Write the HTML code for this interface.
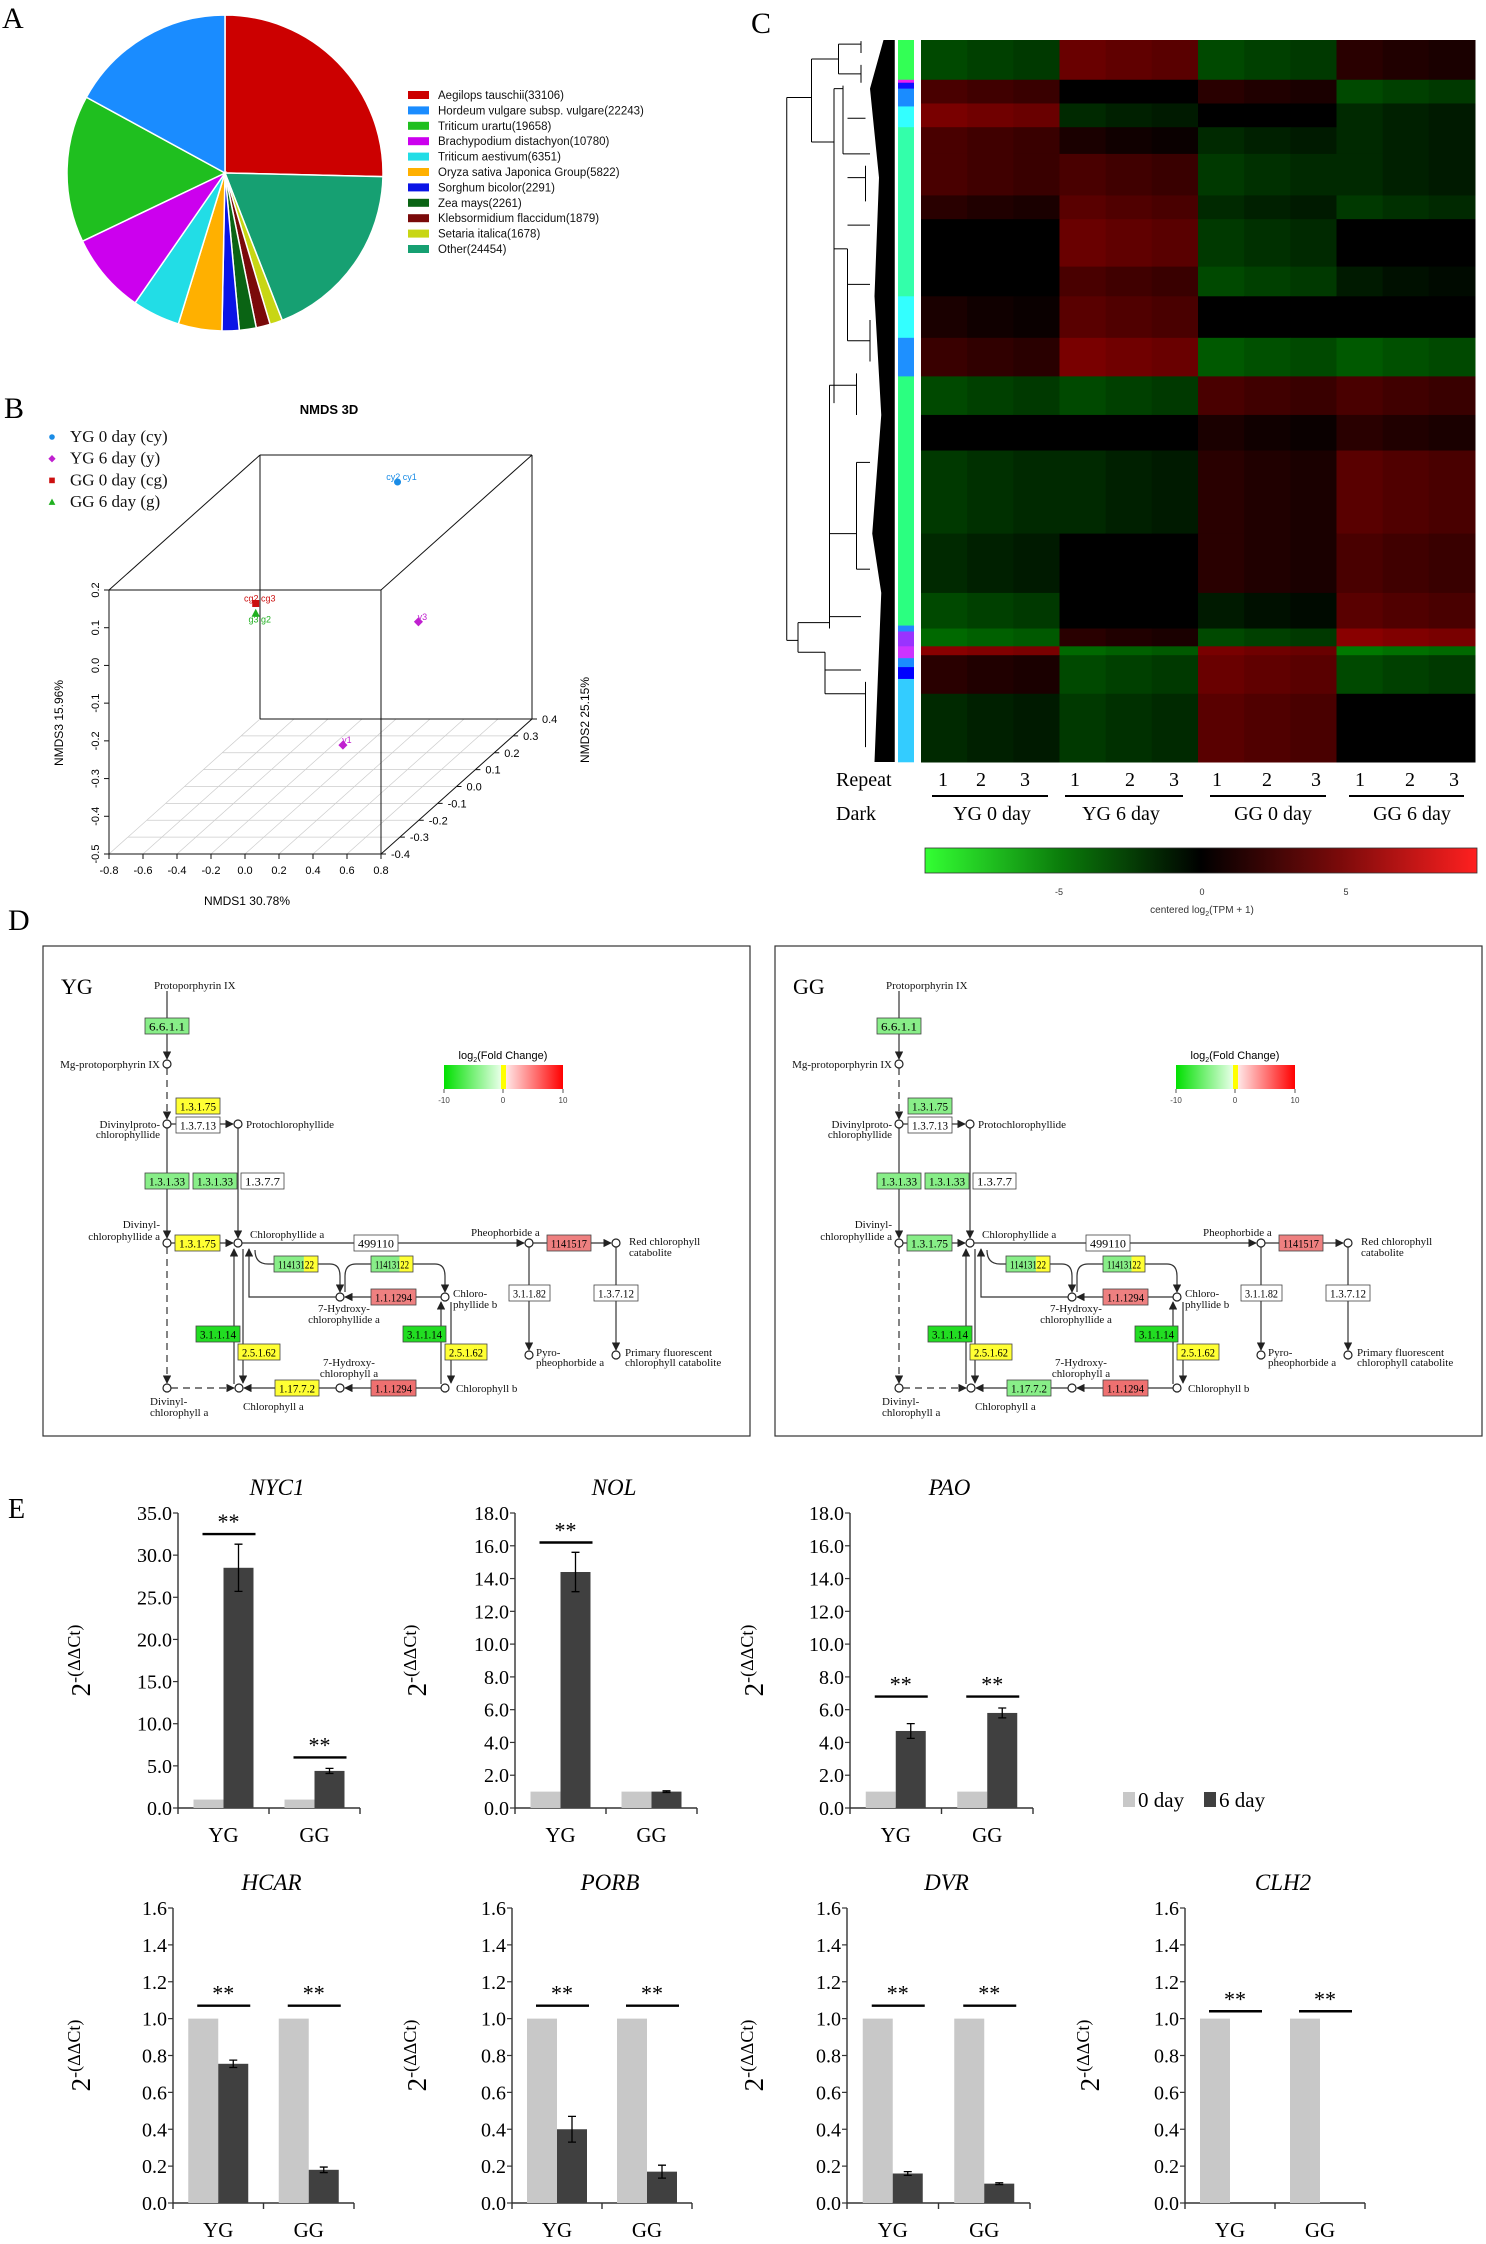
<!DOCTYPE html>
<html><head><meta charset="utf-8">
<style>
html,body{margin:0;padding:0;background:#fff;}
svg{display:block;}
.sans{font-family:"Liberation Sans",sans-serif;}
.serif{font-family:"Liberation Serif",serif;}
</style></head>
<body>
<svg id="fig" width="1486" height="2244" viewBox="0 0 1486 2244" xmlns="http://www.w3.org/2000/svg">
<defs>
<marker id="arr" viewBox="0 0 10 10" refX="9" refY="5" markerWidth="7" markerHeight="7" orient="auto-start-reverse"><path d="M0,0 L10,5 L0,10 z" fill="#222"/></marker>
<linearGradient id="hmgrad" x1="0" x2="1" y1="0" y2="0">
<stop offset="0" stop-color="#33ff33"/><stop offset="0.25" stop-color="#0a7a0a"/><stop offset="0.5" stop-color="#000"/><stop offset="0.75" stop-color="#7a0a0a"/><stop offset="1" stop-color="#ff2020"/></linearGradient>
<linearGradient id="fcgrad" x1="0" x2="1" y1="0" y2="0">
<stop offset="0" stop-color="#00e000"/><stop offset="0.48" stop-color="#e8ffe8"/><stop offset="0.48" stop-color="#ffff00"/><stop offset="0.52" stop-color="#ffff00"/><stop offset="0.52" stop-color="#ffe8e8"/><stop offset="1" stop-color="#ff0000"/></linearGradient>
</defs>
<g id="gA"></g>
<g id="gB"></g>
<g id="gC"></g>
<g id="gD"></g>
<g id="gE"></g>
</svg>
<script>
// ---------- Panel A data ----------
const pieLabels=['Aegilops tauschii(33106)','Hordeum vulgare subsp. vulgare(22243)','Triticum urartu(19658)','Brachypodium distachyon(10780)','Triticum aestivum(6351)','Oryza sativa Japonica Group(5822)','Sorghum bicolor(2291)','Zea mays(2261)','Klebsormidium flaccidum(1879)','Setaria italica(1678)','Other(24454)'];
const pieValues=[33106,22243,19658,10780,6351,5822,2291,2261,1879,1678,24454];
const pieColors=['#cc0000','#1a8cff','#1fbf1f','#cc00ee','#22dde6','#ffb000','#0a14e6','#0a6414','#7a0a0a','#c8d614','#16a072'];
// ---------- Panel B data ----------
const nmdsGroups=['YG 0 day (cy)','YG 6 day (y)','GG 0 day (cg)','GG 6 day (g)'];
const nmdsColors=['#1a8ce6','#c020d0','#cc1010','#20b020'];
const nmdsX=[0.12,0.465,-0.27,-0.27,0.465];
const nmdsY=[0.3,-0.3,-0.1,-0.1,0.1];
const nmdsZ=[0.173,-0.256,0.03,0.004,-0.108];
const nmdsGrp=[0,1,2,3,1];
const nmdsLbl=['cy2 cy1','y1','cg2 cg3','g3 g2','y3'];
const xTicks=[-0.8,-0.6,-0.4,-0.2,0.0,0.2,0.4,0.6,0.8];
const zTicks=[0.2,0.1,0.0,-0.1,-0.2,-0.3,-0.4,-0.5];
const dTicks=[-0.4,-0.3,-0.2,-0.1,0.0,0.1,0.2,0.3,0.4];
// ---------- Panel C data ----------
const hmGroups=['YG 0  day','YG 6 day','GG 0 day','GG 6 day'];
const bandEnd=[135,175,215,260,330,370,450,500,570,635,700,760,900,1000,1060,1090,1105,1170,1285];
const bandYG0=[-2,2,3.5,2,2,1,0,0,0.5,1.5,-2,0,-1.5,-1,-2,-3,4,1,-1];
const bandYG6=[3,0,-1,0.5,2,2.5,3,2,2.5,3.5,-2,0,-1,0,0,1,-3,-2,-1.5];
const bandGG0=[-2,1,0,-1,-1.5,-1,-1.5,-2,0,-2.5,2,0.5,1,1,-0.5,-2,3.5,3,2.5];
const bandGG6=[1,-2,-1,-1,-1,-1.5,0,-0.5,0,-2.5,2,1,2.5,2,2.5,4,-3.5,-2,0];
const repShift=[0.3,0,-0.2];
const sideEnd=[135,140,150,180,215,500,570,635,1055,1065,1090,1110,1125,1145,1285];
const sideCol=['#33ff55','#ee22ee','#1010ff','#1a8cff','#33ffff','#33ffaa','#33ffff','#1e90ff','#2bff80','#2288ff','#9933ff','#cc33ff','#1a8cff','#0000ff','#33ccff'];
// ---------- Panel E data ----------
const genes=['NYC1','NOL','PAO','HCAR','PORB','DVR','CLH2'];
const cats=['YG','GG'];
const day0=[[1,1],[1,1],[1,1],[1,1],[1,1],[1,1],[1,1]];
const day6=[[28.5,4.4],[14.4,1.0],[4.7,5.8],[0.755,0.18],[0.40,0.17],[0.16,0.105],[0,0]];
const err6=[[2.8,0.3],[1.2,0.05],[0.45,0.3],[0.02,0.015],[0.07,0.035],[0.01,0.005],[0,0]];
const sigLevel=[[32.5,6.0],[16.2,null],[6.8,6.8],[1.07,1.07],[1.07,1.07],[1.07,1.07],[1.04,1.04]];
const yMax=[35,18,18,1.6,1.6,1.6,1.6];
const yStep=[5,2,2,0.2,0.2,0.2,0.2];

const NS='http://www.w3.org/2000/svg';
function mk(parent,tag,attrs,txt){const e=document.createElementNS(NS,tag);for(const k in attrs)e.setAttribute(k,attrs[k]);if(txt!==undefined)e.textContent=txt;parent.appendChild(e);return e;}

// ===== Panel A =====
(function(){
const g=document.getElementById('gA');
const t=mk(g,'text',{x:2,y:28,'font-size':30,class:'serif'},'A');


const cx=225,cy=173,r=158;
const total=pieValues.reduce((a,b)=>a+b,0);
const order=[0,10,9,8,7,6,5,4,3,2,1];
let a=-Math.PI/2;
order.forEach(i=>{
 const a2=a+pieValues[i]/total*2*Math.PI;
 const x1=cx+r*Math.cos(a),y1=cy+r*Math.sin(a),x2=cx+r*Math.cos(a2),y2=cy+r*Math.sin(a2);
 const p=mk(g,'path',{d:`M${cx},${cy} L${x1},${y1} A${r},${r} 0 ${a2-a>Math.PI?1:0} 1 ${x2},${y2} Z`,fill:pieColors[i],stroke:'#fff','stroke-width':1.5});
 
 
 a=a2;
});
pieLabels.forEach((l,i)=>{
 const y=95+i*15.4;
 const s=mk(g,'rect',{x:408,y:y-4,width:21,height:8,fill:pieColors[i]});
 
 
 const tx=mk(g,'text',{x:438,y:y+4,'font-size':11.5,class:'sans',fill:'#111'},l);
 
 
});
})();

// ===== Panel B =====
(function(){
const g=document.getElementById('gB');
const L=mk(g,'text',{x:4,y:418,'font-size':30,class:'serif'},'B');


const T=mk(g,'text',{x:329,y:414,'font-size':13,'font-weight':'bold','text-anchor':'middle',class:'sans'},'NMDS 3D');


function marker(parent,grp,x,y,s){
 const c=nmdsColors[grp];let m;
 if(grp===0)m=mk(parent,'circle',{cx:x,cy:y,r:s,fill:c});
 else if(grp===1)m=mk(parent,'path',{d:`M${x},${y-s*1.3} L${x+s*1.3},${y} L${x},${y+s*1.3} L${x-s*1.3},${y} Z`,fill:c});
 else if(grp===2)m=mk(parent,'rect',{x:x-s,y:y-s,width:2*s,height:2*s,fill:c});
 else m=mk(parent,'path',{d:`M${x},${y-s*1.3} L${x+s*1.2},${y+s} L${x-s*1.2},${y+s} Z`,fill:c});
 return m;}
nmdsGroups.forEach((n,i)=>{
 const y=442+i*21.7;
 const m=marker(g,i,52,y-5,2.8);
 
 
 const t=mk(g,'text',{x:70,y:y,'font-size':17,class:'serif',fill:'#111'},n);
 
 
});
function P(x,d,z){const f=(d+0.4)/0.8;return [109+(x+0.8)/1.6*272+f*151, 854-(z+0.5)/0.7*264-f*135];}
dTicks.forEach(d=>{const a=P(-0.8,d,-0.5),b=P(0.8,d,-0.5);mk(g,'line',{x1:a[0],y1:a[1],x2:b[0],y2:b[1],stroke:'#ccc','stroke-width':0.7});});
xTicks.forEach(x=>{const a=P(x,-0.4,-0.5),b=P(x,0.4,-0.5);mk(g,'line',{x1:a[0],y1:a[1],x2:b[0],y2:b[1],stroke:'#ccc','stroke-width':0.7});});
const C=[[-0.8,-0.4,0.2,0.8,-0.4,0.2],[-0.8,-0.4,0.2,-0.8,-0.4,-0.5],[0.8,-0.4,0.2,0.8,-0.4,-0.5],[-0.8,-0.4,-0.5,0.8,-0.4,-0.5],
[-0.8,0.4,0.2,0.8,0.4,0.2],[-0.8,0.4,0.2,-0.8,0.4,-0.5],[0.8,0.4,0.2,0.8,0.4,-0.5],[-0.8,0.4,-0.5,0.8,0.4,-0.5],
[-0.8,-0.4,0.2,-0.8,0.4,0.2],[0.8,-0.4,0.2,0.8,0.4,0.2],[0.8,-0.4,-0.5,0.8,0.4,-0.5]];
C.forEach(c=>{const a=P(c[0],c[1],c[2]),b=P(c[3],c[4],c[5]);const l=mk(g,'line',{x1:a[0],y1:a[1],x2:b[0],y2:b[1],stroke:'#111','stroke-width':1});});
xTicks.forEach(x=>{const p=P(x,-0.4,-0.5);mk(g,'line',{x1:p[0],y1:p[1],x2:p[0],y2:p[1]+5,stroke:'#111'});const t=mk(g,'text',{x:p[0],y:p[1]+20,'font-size':11,'text-anchor':'middle',class:'sans'},x.toFixed(1));});
zTicks.forEach(z=>{const p=P(-0.8,-0.4,z);mk(g,'line',{x1:p[0]-5,y1:p[1],x2:p[0],y2:p[1],stroke:'#111'});const t=mk(g,'text',{x:0,y:0,'font-size':11,'text-anchor':'middle',class:'sans',transform:`translate(${p[0]-10},${p[1]}) rotate(-90)`},z.toFixed(1));});
dTicks.forEach(d=>{const p=P(0.8,d,-0.5);mk(g,'line',{x1:p[0],y1:p[1],x2:p[0]+5,y2:p[1],stroke:'#111'});const t=mk(g,'text',{x:p[0]+10,y:p[1]+4,'font-size':11,class:'sans'},d.toFixed(1));});
const ax1=mk(g,'text',{x:247,y:905,'font-size':12,'text-anchor':'middle',class:'sans'},'NMDS1 30.78%');
const ax3=mk(g,'text',{x:0,y:0,'font-size':12,'text-anchor':'middle',class:'sans',transform:'translate(63,723) rotate(-90)'},'NMDS3 15.96%');
const ax2=mk(g,'text',{x:0,y:0,'font-size':12,'text-anchor':'middle',class:'sans',transform:'translate(589,720) rotate(-90)'},'NMDS2 25.15%');
nmdsX.forEach((x,i)=>{const p=P(x,nmdsY[i],nmdsZ[i]);const c=nmdsColors[nmdsGrp[i]];
 const m=marker(g,nmdsGrp[i],p[0],p[1],3.5);
 const t=mk(g,'text',{x:p[0]+4,y:p[1]+(nmdsGrp[i]==3?9:-2),'font-size':9,fill:c,class:'sans','text-anchor':'middle'},nmdsLbl[i]);
});
})();

// ===== Panel C =====
(function(){
const g=document.getElementById('gC');
const L=mk(g,'text',{x:751,y:33,'font-size':30,class:'serif'},'C');
const y0=40,y1=762,hx0=921,hx1=1475,sc=(y1-y0)/(1285-68);
function col(v){const k=Math.min(1,Math.abs(v)/8);return v<0?`rgb(0,${Math.round(k*255)},0)`:`rgb(${Math.round(k*255)},0,0)`;}
const vals=[bandYG0,bandYG6,bandGG0,bandGG6];
const cw=(hx1-hx0)/4;
let prev=68;
bandEnd.forEach((e,b)=>{
 const ya=y0+(prev-68)*sc,yb=y0+(e-68)*sc;
 for(let j=0;j<4;j++)for(let k=0;k<3;k++){const v=vals[j][b];const vv=v+Math.sign(v)*repShift[k];const r=mk(g,'rect',{x:hx0+j*cw+k*cw/3,y:ya,width:cw/3+0.5,height:yb-ya+0.5,fill:col(vv)});}
 prev=e;
});
prev=68;
sideEnd.forEach((e,i)=>{const ya=y0+(prev-68)*sc,yb=y0+(e-68)*sc;const r=mk(g,'rect',{x:898,y:ya,width:16,height:yb-ya+0.3,fill:sideCol[i]});prev=e;});
const dg=mk(g,'g',{stroke:'#000','stroke-width':1,fill:'none'});
const Y=p=>y0+(p-68)*sc, X=p=>780+p*0.45;
const seg=[[15,165,15,1080],[15,165,70,165],[15,1080,40,1080],[70,100,70,240],[70,100,130,100],[70,240,120,240],[130,75,130,125],[130,75,180,75],[130,125,180,125],[180,70,180,90],[180,110,180,140],[120,150,120,680],[150,420,150,575],[120,420,150,420],[120,150,140,150],[140,145,140,260],[140,260,200,260],[150,300,190,300],[190,280,190,340],[150,575,200,575],[200,540,200,610],[40,1050,40,1100],[40,1050,110,1050],[40,1100,100,1100],[110,650,110,1060],[110,650,170,650],[170,630,170,700],[110,900,170,900],[170,780,170,960],[170,780,200,780],[170,960,200,960],[110,1040,180,1040],[100,1100,100,1170],[100,1170,190,1170],[100,1130,180,1130],[190,1150,190,1260],[150,200,190,200],[150,380,200,380],[150,480,200,480]];
seg.forEach(s=>mk(dg,'line',{x1:X(s[0]),y1:Y(s[1]),x2:X(s[2]),y2:Y(s[3])}));
const leaf=mk(g,'path',{d:`M${X(230)},${Y(68)} L${X(255)},${Y(68)} L${X(255)},${Y(1285)} L${X(210)},${Y(1285)} L${X(225)},${Y(1000)} L${X(205)},${Y(900)} L${X(225)},${Y(700)} L${X(210)},${Y(500)} L${X(220)},${Y(300)} L${X(200)},${Y(150)} Z`,fill:'#000'});

const rp=mk(g,'text',{x:836,y:786,'font-size':20,class:'serif'},'Repeat');
const dk=mk(g,'text',{x:836,y:820,'font-size':20,class:'serif'},'Dark');
const nx=[[943,981,1025],[1075,1130,1174],[1217,1267,1316],[1360,1410,1454]];
const ul=[[932,1048],[1065,1183],[1210,1326],[1349,1464]];
const gc=[992,1121,1273,1412];
hmGroups.forEach((n,j)=>{
 nx[j].forEach((x,k)=>{const t=mk(g,'text',{x:x,y:786,'font-size':20,'text-anchor':'middle',class:'serif'},String(k+1));});
 mk(g,'line',{x1:ul[j][0],y1:796,x2:ul[j][1],y2:796,stroke:'#000','stroke-width':2});
 const t=mk(g,'text',{x:gc[j],y:820,'font-size':20,'text-anchor':'middle',class:'serif','xml:space':'preserve'},n);
});
const cb=mk(g,'rect',{x:925,y:848,width:552,height:25,fill:'url(#hmgrad)',stroke:'#333','stroke-width':0.8});
[[-5,1059],[0,1202],[5,1346]].forEach(v=>{const t=mk(g,'text',{x:v[1],y:895,'font-size':9,'text-anchor':'middle',class:'sans',fill:'#333'},String(v[0]));});
const cap=mk(g,'text',{x:1202,y:913,'font-size':10,'text-anchor':'middle',class:'sans',fill:'#333'});
cap.innerHTML='centered log<tspan font-size="7" dy="3">2</tspan><tspan dy="-3">(TPM + 1)</tspan>';
})();

// ===== Panel D =====
(function(){
const g=document.getElementById('gD');
const L=mk(g,'text',{x:8,y:930,'font-size':30,class:'serif'},'D');
const G='#88ee88',GS='#22dd22',Yl='#ffff33',R='#ee8080',R2='#ee7070',W='#fff';
const confs=[{o:0,name:'YG',c:{a:G,b:Yl,c1:G,c2:G,d:Yl,e:R,f:GS,h:Yl,i:Yl,j:R,k:R2}},
             {o:732,name:'GG',c:{a:G,b:G,c1:G,c2:G,d:G,e:R,f:GS,h:Yl,i:G,j:R,k:R2}}];
confs.forEach(cf=>{
 const o=cf.o;
 const pg=mk(g,'g',{transform:`translate(${o},0)`,class:'serif'});
 
 
 mk(pg,'rect',{x:43,y:946,width:707,height:490,fill:'#fff',stroke:'#333','stroke-width':1.2});
 const t=mk(pg,'text',{x:61,y:994,'font-size':22},cf.name);
 function ln(d,dash,arrow){mk(pg,'path',{d:d,fill:'none',stroke:'#333','stroke-width':1.2,'stroke-dasharray':dash?'7,5':'none','marker-end':arrow?'url(#arr)':''});}
 function circ(x,y){mk(pg,'circle',{cx:x,cy:y,r:4,fill:'#fff',stroke:'#222','stroke-width':1.2});}
 function box(x1,y1,x2,fill,txt,split){const b=mk(pg,'g',{});
  if(split){mk(b,'rect',{x:x1,y:y1,width:(x2-x1)*0.68,height:16,fill:G});mk(b,'rect',{x:x1+(x2-x1)*0.68,y:y1,width:(x2-x1)*0.32,height:16,fill:Yl});mk(b,'rect',{x:x1,y:y1,width:x2-x1,height:16,fill:'none',stroke:'#444','stroke-width':0.8});}
  else mk(b,'rect',{x:x1,y:y1,width:x2-x1,height:16,fill:fill,stroke:'#444','stroke-width':0.8});
  mk(b,'text',{x:(x1+x2)/2,y:y1+12.5,'font-size':12,'text-anchor':'middle',textLength:x2-x1-8,lengthAdjust:'spacingAndGlyphs'},txt);}
 function lab(x,y,s,anchor){const t=mk(pg,'text',{x:x,y:y,'font-size':11,'text-anchor':anchor||'start',fill:'#111'},s);}
 ln('M167,991 L167,1059',0,1);
 ln('M167,1068 L167,1119',1,1);
 ln('M167,1128 L167,1238',0,1);
 ln('M167,1247 L167,1383',1,1);
 ln('M171,1124 L233,1124',0,1);
 ln('M238,1128 L238,1238',0,1);
 ln('M171,1243 L233,1243',0,1);
 ln('M242,1243 L524,1243',0,1);
 ln('M533,1243 L611,1243',0,1);
 ln('M529,1247 L529,1350',0,1);
 ln('M616,1247 L616,1350',0,1);
 ln('M171,1388 L234,1388',1,1);
 ln('M441,1388 L345,1388',0,1);
 ln('M336,1388 L244,1388',0,1);
 ln('M441,1297 L345,1297',0,1);
 ln('M336,1297 L249,1297 L249,1249',0,1);
 ln('M234,1384 L234,1249',0,1);
 ln('M243,1249 L243,1383',0,1);
 ln('M441,1384 L441,1302',0,1);
 ln('M451,1302 L451,1383',0,1);
 ln('M255,1250 Q255,1264 268,1264 L330,1264 Q340,1264 340,1276 L340,1292',0,1);
 ln('M345,1292 L345,1276 Q345,1264 356,1264 L435,1264 Q445,1264 445,1276 L445,1292',0,1);
 [[167,1064],[167,1124],[238,1124],[167,1243],[238,1243],[529,1243],[616,1243],[340,1297],[445,1297],[529,1355],[616,1355],[167,1388],[239,1388],[340,1388],[445,1388]].forEach(p=>circ(p[0],p[1]));
 const c=cf.c;
 box(145,1018,189,c.a,'6.6.1.1');
 box(176,1098,220,c.b,'1.3.1.75');
 box(176,1117,220,W,'1.3.7.13');
 box(145,1173,189,c.c1,'1.3.1.33');
 box(193,1173,237,c.c2,'1.3.1.33');
 box(241,1173,284,W,'1.3.7.7');
 box(175,1235,220,c.d,'1.3.1.75');
 box(354,1235,398,W,'499110');
 box(547,1235,591,c.j,'1141517');
 box(274,1256,318,null,'11413122',1);
 box(371,1256,413,null,'11413122',1);
 box(371,1289,416,c.e,'1.1.1294');
 box(509,1285,550,W,'3.1.1.82');
 box(594,1285,638,W,'1.3.7.12');
 box(196,1326,240,c.f,'3.1.1.14');
 box(403,1326,446,c.f,'3.1.1.14');
 box(238,1344,280,c.h,'2.5.1.62');
 box(445,1344,487,c.h,'2.5.1.62');
 box(275,1380,319,c.i,'1.17.7.2');
 box(371,1380,416,c.k,'1.1.1294');
 lab(154,989,'Protoporphyrin IX');
 lab(160,1068,'Mg-protoporphyrin IX','end');
 lab(160,1128,'Divinylproto-','end');lab(160,1138,'chlorophyllide','end');
 lab(246,1128,'Protochlorophyllide');
 lab(160,1228,'Divinyl-','end');lab(160,1240,'chlorophyllide a','end');
 lab(250,1238,'Chlorophyllide a');
 lab(471,1236,'Pheophorbide a');
 lab(629,1245,'Red chlorophyll');lab(629,1256,'catabolite');
 lab(453,1297,'Chloro-');lab(453,1308,'phyllide b');
 lab(344,1312,'7-Hydroxy-','middle');lab(344,1323,'chlorophyllide a','middle');
 lab(536,1356,'Pyro-');lab(536,1366,'pheophorbide a');
 lab(625,1356,'Primary fluorescent');lab(625,1366,'chlorophyll catabolite');
 lab(349,1366,'7-Hydroxy-','middle');lab(349,1377,'chlorophyll a','middle');
 lab(456,1392,'Chlorophyll b');
 lab(150,1405,'Divinyl-');lab(150,1416,'chlorophyll a');
 lab(243,1410,'Chlorophyll a');
 const lt=mk(pg,'text',{x:503,y:1059,'font-size':11,'text-anchor':'middle',class:'sans'});
 lt.innerHTML='log<tspan font-size="7" dy="3">2</tspan><tspan dy="-3">(Fold Change)</tspan>';
 const gb=mk(pg,'rect',{x:444,y:1065,width:119,height:24,fill:'url(#fcgrad)'});
 [[-10,444],[0,503],[10,563]].forEach(v=>{mk(pg,'line',{x1:v[1],y1:1089,x2:v[1],y2:1093,stroke:'#555'});mk(pg,'text',{x:v[1],y:1103,'font-size':8,'text-anchor':'middle',class:'sans',fill:'#444'},String(v[0]));});
});
})();

// ===== Panel E =====
(function(){
const g=document.getElementById('gE');
const L=mk(g,'text',{x:8,y:1518,'font-size':28,class:'serif'},'E');
const axL=[178,515,850,173,512,847,1185];
const axR=[360,697,1033,354,692,1030,1365];
const top=[1513,1513,1513,1908,1908,1908,1908];
const bot=[1808,1808,1808,2203,2203,2203,2203];
const ylx=[90,426,763,90,426,763,1099];
genes.forEach((gn,i)=>{
 const cg=mk(g,'g',{class:'serif'});
 
 
 const yS=v=>bot[i]-v/yMax[i]*(bot[i]-top[i]);
 const x0=axL[i],x1=axR[i],w=x1-x0;
 mk(cg,'line',{x1:x0,y1:top[i],x2:x0,y2:bot[i],stroke:'#333','stroke-width':1.4});
 mk(cg,'line',{x1:x0,y1:bot[i],x2:x1,y2:bot[i],stroke:'#333','stroke-width':1.4});
 [x0,x0+w/2,x1].forEach(x=>mk(cg,'line',{x1:x,y1:bot[i],x2:x,y2:bot[i]+6,stroke:'#333','stroke-width':1.4}));
 const n=Math.round(yMax[i]/yStep[i]);
 for(let k=0;k<=n;k++){const v=k*yStep[i],y=yS(v);
  mk(cg,'line',{x1:x0-5,y1:y,x2:x0,y2:y,stroke:'#333','stroke-width':1.2});
  const t=mk(cg,'text',{x:x0-6,y:y+7,'font-size':20,'text-anchor':'end'},v.toFixed(1));
  }
 const tt=mk(cg,'text',{x:(x0+x1)/2+8,y:top[i]-18,'font-size':23,'font-style':'italic','text-anchor':'middle'},gn);
 
 const yl=mk(cg,'text',{x:0,y:0,'font-size':27,'text-anchor':'middle',transform:`translate(${ylx[i]},${(top[i]+bot[i])/2}) rotate(-90)`});
 
 yl.innerHTML='2<tspan font-size="18" dy="-10">-(ΔΔCt)</tspan>';
 cats.forEach((c,j)=>{
  const cx=x0+w*(0.25+0.5*j);
  const b0=mk(cg,'rect',{x:cx-30,y:yS(day0[i][j]),width:30,height:bot[i]-yS(day0[i][j]),fill:'#c8c8c8'});
  
  const b6=mk(cg,'rect',{x:cx,y:yS(day6[i][j]),width:30,height:bot[i]-yS(day6[i][j]),fill:'#404040'});
  
  if(err6[i][j]>0){const ex=cx+15,ya=yS(day6[i][j]+err6[i][j]),yb=yS(day6[i][j]-err6[i][j]);
   const e=mk(cg,'path',{d:`M${ex},${ya} L${ex},${yb} M${ex-4},${ya} L${ex+4},${ya} M${ex-4},${yb} L${ex+4},${yb}`,stroke:'#000','stroke-width':1.3,fill:'none'});
   }
  if(sigLevel[i][j]!==null){const ys=yS(sigLevel[i][j]);
   mk(cg,'line',{x1:cx-21,y1:ys,x2:cx+32,y2:ys,stroke:'#000','stroke-width':2.4});
   const s=mk(cg,'text',{x:cx+5,y:ys-5,'font-size':22,'text-anchor':'middle'},'**');}
  const cl=mk(cg,'text',{x:cx,y:bot[i]+34,'font-size':21,'text-anchor':'middle'},c);
  
 });
});
const lg=mk(g,'g',{class:'serif'});
mk(lg,'rect',{x:1123,y:1792,width:12,height:15,fill:'#c8c8c8'});
mk(lg,'text',{x:1138,y:1807,'font-size':21},'0 day');
mk(lg,'rect',{x:1204,y:1792,width:12,height:15,fill:'#404040'});
mk(lg,'text',{x:1219,y:1807,'font-size':21},'6 day');
})();
</script>
</body></html>
